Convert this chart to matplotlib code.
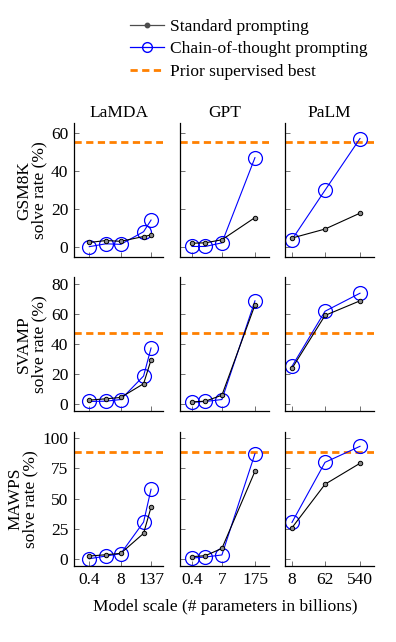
import matplotlib
matplotlib.use("Agg")
import matplotlib.pyplot as plt
from matplotlib.lines import Line2D

plt.rcParams['font.family'] = ['Liberation Serif', 'DejaVu Serif']
plt.rcParams['mathtext.fontset'] = 'stix'
plt.rcParams['font.size'] = 12.5

# ==========================
# Data
# ==========================
models = ["LaMDA", "GPT", "PaLM"]
datasets = ["GSM8K", "SVAMP", "MAWPS"]

lamda_size = [0.42, 2, 8, 68, 137]
gpt_size = [0.35, 1.3, 6.7, 175]
palm_size = [8, 62, 540]

lamda_ticks = [0.42, 8, 137]
gpt_ticks = [0.35, 6.7, 175]
palm_ticks = [8, 62, 540]
lamda_ticklabels = ["0.4", "8", "137"]
gpt_ticklabels = ["0.4", "7", "175"]
palm_ticklabels = ["8", "62", "540"]

# standard prompting
gsm8k_std_lamda = [2.6, 3.6, 3.2, 5.7, 6.5]
gsm8k_std_gpt = [2.2, 2.4, 4.0, 15.6]
gsm8k_std_palm = [4.9, 9.6, 17.9]
svamp_std_lamda = [2.3, 3.2, 4.1, 13.3, 29.3]
svamp_std_gpt = [1.1, 1.6, 5.6, 66.2]
svamp_std_palm = [23.6, 59.2, 69.0]
mawps_std_lamda = [2.7, 3.8, 4.9, 21.4, 43.0]
mawps_std_gpt = [2.2, 3.0, 9.0, 72.6]
mawps_std_palm = [26.0, 61.9, 79.2]

# chain-of-thought prompting
gsm8k_cot_lamda = [0.4, 1.9, 1.6, 8.2, 14.3]
gsm8k_cot_gpt = [0.5, 0.5, 2.4, 46.9]
gsm8k_cot_palm = [4.1, 29.9, 56.9]
svamp_cot_lamda = [1.4, 1.6, 2.7, 18.5, 37.3]
svamp_cot_gpt = [0.9, 1.4, 2.7, 69.0]
svamp_cot_palm = [25.0, 62.0, 74.1]
mawps_cot_lamda = [0.5, 2.7, 4.7, 30.7, 57.8]
mawps_cot_gpt = [1.1, 1.9, 3.6, 87.1]
mawps_cot_palm = [30.4, 80.0, 93.2]

prior_best = [55.0, 47.5, 88.2]

# ==========================
# Layout
# ==========================
W, H = 396, 642
col_left = [74, 180, 285]
col_width = 89
row_top = [123, 277, 432]
row_height = 134

xlims = [(0.1, 420), (0.107, 700), (5.2, 1285)]
ylims = [(-5, 65), (-5, 85), (-5.5, 105)]
yticks = [[0, 20, 40, 60], [0, 20, 40, 60, 80], [0, 25, 50, 75, 100]]

sizes = [lamda_size, gpt_size, palm_size]
ticks = [lamda_ticks, gpt_ticks, palm_ticks]
ticklabels = [lamda_ticklabels, gpt_ticklabels, palm_ticklabels]
std = [[gsm8k_std_lamda, gsm8k_std_gpt, gsm8k_std_palm],
       [svamp_std_lamda, svamp_std_gpt, svamp_std_palm],
       [mawps_std_lamda, mawps_std_gpt, mawps_std_palm]]
cot = [[gsm8k_cot_lamda, gsm8k_cot_gpt, gsm8k_cot_palm],
       [svamp_cot_lamda, svamp_cot_gpt, svamp_cot_palm],
       [mawps_cot_lamda, mawps_cot_gpt, mawps_cot_palm]]

ORANGE = (1.0, 0.5, 0.0)
BLUE = (0.0, 0.0, 1.0)

fig = plt.figure(figsize=(W / 100, H / 100), dpi=100)

for r in range(3):
    for c in range(3):
        ax = fig.add_axes([col_left[c] / W, 1 - (row_top[r] + row_height) / H,
                           col_width / W, row_height / H])
        ax.set_xscale('log')
        ax.axhline(prior_best[r], color=ORANGE, lw=2.0, dashes=(2.6, 1.6), zorder=1)
        ax.plot(sizes[c], std[r][c], color='black', lw=0.8, marker='o', ms=3.2,
                mfc='0.55', mec='black', mew=0.7, zorder=3)
        ax.plot(sizes[c], cot[r][c], color=BLUE, lw=0.8, marker='o', ms=10,
                mfc='none', mec=BLUE, mew=0.9, zorder=2)
        ax.set_xlim(*xlims[c])
        ax.set_ylim(*ylims[r])
        ax.set_xticks(ticks[c])
        ax.xaxis.set_minor_locator(matplotlib.ticker.NullLocator())
        ax.set_yticks(yticks[r])
        ax.spines['top'].set_visible(False)
        ax.spines['right'].set_visible(False)
        for s in ['left', 'bottom']:
            ax.spines[s].set_linewidth(0.9)
        ax.tick_params(direction='in', length=3.5, width=0.6, color='0.35', pad=4)
        if r == 2:
            ax.set_xticklabels(ticklabels[c])
        else:
            ax.set_xticklabels([])
        if c == 0:
            ax.set_ylabel(datasets[r] + "\nsolve rate (%)", linespacing=0.9, labelpad=3)
        else:
            ax.set_yticklabels([])
        if r == 0:
            ax.set_title(models[c], fontsize=12.5, pad=4)

fig.text(225 / W, 1 - 607 / H, "Model scale (# parameters in billions)",
         ha='center', va='center')

handles = [
    Line2D([], [], color='0.3', lw=0.9, marker='o', ms=3.2, mfc='0.3', mec='0.3'),
    Line2D([], [], color=BLUE, lw=0.9, marker='o', ms=7, mfc='none', mec=BLUE),
    Line2D([], [], color=ORANGE, lw=2.0, dashes=(2.6, 1.6)),
]
labels = ["Standard prompting", "Chain-of-thought prompting", "Prior supervised best"]
fig.legend(handles, labels, loc='upper left', bbox_to_anchor=(121 / W, 1 - 10 / H),
           frameon=False, borderpad=0, handlelength=2.0, handletextpad=0.3,
           labelspacing=0.36, fontsize=12.5)

fig.savefig("out.png", dpi=100)
